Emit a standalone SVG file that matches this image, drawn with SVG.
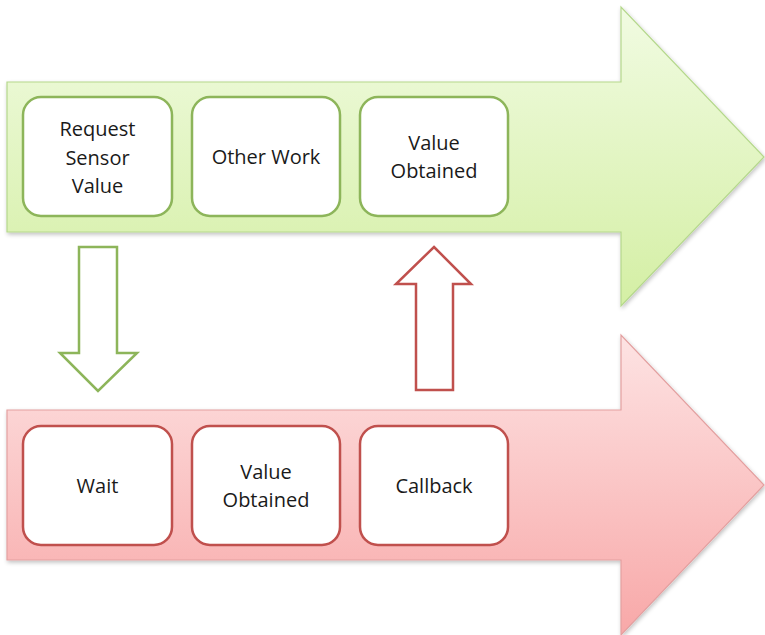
<svg xmlns="http://www.w3.org/2000/svg" width="765" height="635" viewBox="0 0 765 635">
<defs>
<linearGradient id="gGreen" x1="0" y1="0" x2="0" y2="1">
<stop offset="0" stop-color="#f1fbe2"/>
<stop offset="1" stop-color="#d4efa4"/>
</linearGradient>
<linearGradient id="gRed" x1="0" y1="0" x2="0" y2="1">
<stop offset="0" stop-color="#fde3e3"/>
<stop offset="1" stop-color="#f8a8a8"/>
</linearGradient>
<filter id="sh" x="-5%" y="-5%" width="110%" height="115%">
<feGaussianBlur in="SourceAlpha" stdDeviation="2"/>
<feOffset dx="1" dy="2"/>
<feComponentTransfer><feFuncA type="linear" slope="0.25"/></feComponentTransfer>
<feMerge><feMergeNode/><feMergeNode in="SourceGraphic"/></feMerge>
</filter>
</defs>
<style>
.big-g{fill:url(#gGreen);stroke:#b5d88c;stroke-width:1.2}
.big-r{fill:url(#gRed);stroke:#e3a0a0;stroke-width:1.2}
.box-g{fill:#ffffff;stroke:#8db55a;stroke-width:2.5}
.box-r{fill:#ffffff;stroke:#c0504d;stroke-width:2.5}
.conn-g{fill:#ffffff;stroke:#8db55a;stroke-width:2.5}
.conn-r{fill:#ffffff;stroke:#c0504d;stroke-width:2.5}
text{font-family:"Open Sans","Liberation Sans",sans-serif;font-size:20px;fill:#1a1a1a;text-anchor:middle}
</style>
<g id="green-lane">
<path class="big-g" filter="url(#sh)" d="M7,82 L621,82 L621,7 L764,157 L621,306 L621,232 L7,232 Z"/>
</g>
<g id="red-lane">
<path class="big-r" filter="url(#sh)" d="M7,410 L621,410 L621,335 L764,485 L621,635 L621,560 L7,560 Z"/>
</g>
<g id="connectors">
<path class="conn-g" d="M79,247 L117,247 L117,353 L137,353 L98,391 L60,353 L79,353 Z"/>
<path class="conn-r" d="M434,247 L471,284 L453,284 L453,390 L416,390 L416,284 L396,284 Z"/>
</g>
<g id="request-sensor-value">
<rect class="box-g" x="23" y="97" width="149" height="119" rx="18"/>
<text x="97.5" y="136">Request</text>
<text x="97.5" y="165">Sensor</text>
<text x="97.5" y="193">Value</text>
</g>
<g id="other-work">
<rect class="box-g" x="192" y="97" width="148" height="119" rx="18"/>
<text x="266" y="164">Other Work</text>
</g>
<g id="value-obtained-top">
<rect class="box-g" x="360" y="97" width="148" height="119" rx="18"/>
<text x="434" y="150">Value</text>
<text x="434" y="178">Obtained</text>
</g>
<g id="wait">
<rect class="box-r" x="23" y="426" width="149" height="119" rx="18"/>
<text x="97.5" y="493">Wait</text>
</g>
<g id="value-obtained-bottom">
<rect class="box-r" x="192" y="426" width="148" height="119" rx="18"/>
<text x="266" y="479">Value</text>
<text x="266" y="507">Obtained</text>
</g>
<g id="callback">
<rect class="box-r" x="360" y="426" width="148" height="119" rx="18"/>
<text x="434" y="493">Callback</text>
</g>
</svg>
